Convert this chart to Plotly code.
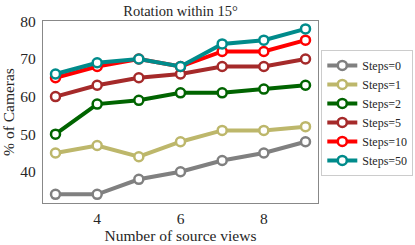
import plotly.graph_objects as go

views = [3, 4, 5, 6, 7, 8, 9]
steps0 = [34, 34, 38, 40, 43, 45, 48]
steps1 = [45, 47, 44, 48, 51, 51, 52]
steps2 = [50, 58, 59, 61, 61, 62, 63]
steps5 = [60, 63, 65, 66, 68, 68, 70]
steps10 = [65, 68, 70, 68, 72, 72, 75]
steps50 = [66, 69, 70, 68, 74, 75, 78]

series = [
    ("Steps=0", steps0, "#808080"),
    ("Steps=1", steps1, "#BDB76B"),
    ("Steps=2", steps2, "#006400"),
    ("Steps=5", steps5, "#A52A2A"),
    ("Steps=10", steps10, "#FF0000"),
    ("Steps=50", steps50, "#008B8B"),
]

fig = go.Figure()
for name, vals, col in series:
    fig.add_trace(go.Scatter(
        x=views, y=vals, name=name, mode="lines+markers",
        line=dict(color=col, width=4),
        marker=dict(size=9, color="white", line=dict(color=col, width=2.5)),
    ))

font = "Liberation Serif, Times New Roman, serif"
fig.update_layout(
    width=415, height=245,
    margin=dict(l=43, r=97, t=21, b=42, autoexpand=False),
    paper_bgcolor="white", plot_bgcolor="white",
    font=dict(family=font, size=13, color="#262626"),
    title=dict(text="Rotation within 15°", x=(43 + 318) / 2 / 415, xanchor="center",
               y=1 - 11 / 245, yanchor="middle", font=dict(family=font, size=14.5)),
    legend=dict(x=1.012, xanchor="left", y=0.495, yanchor="middle",
                bordercolor="#cccccc", borderwidth=1, font=dict(family=font, size=12),
                tracegroupgap=0, itemwidth=30),
    showlegend=True,
)
fig.update_xaxes(range=[2.7, 9.3], tickvals=[4, 6, 8], showgrid=False, zeroline=False,
                 showline=True, linecolor="#888888", linewidth=1.2, mirror=True,
                 ticks="", tickfont=dict(family=font, size=15.5), automargin=False,
                 ticklabelstandoff=1,
                 title=dict(text="Number of source views", standoff=0,
                            font=dict(family=font, size=15.5)))
fig.update_yaxes(range=[31.7, 80.1], tickvals=[40, 50, 60, 70, 80], showgrid=False, zeroline=False,
                 showline=True, linecolor="#888888", linewidth=1.2, mirror=True,
                 ticks="", tickfont=dict(family=font, size=15.5), automargin=False,
                 ticklabelstandoff=3,
                 title=dict(text="% of Cameras", standoff=2,
                            font=dict(family=font, size=15.5)))
fig.write_html("out.html", config={"displayModeBar": False},
               post_script="document.body.style.margin='0';")
